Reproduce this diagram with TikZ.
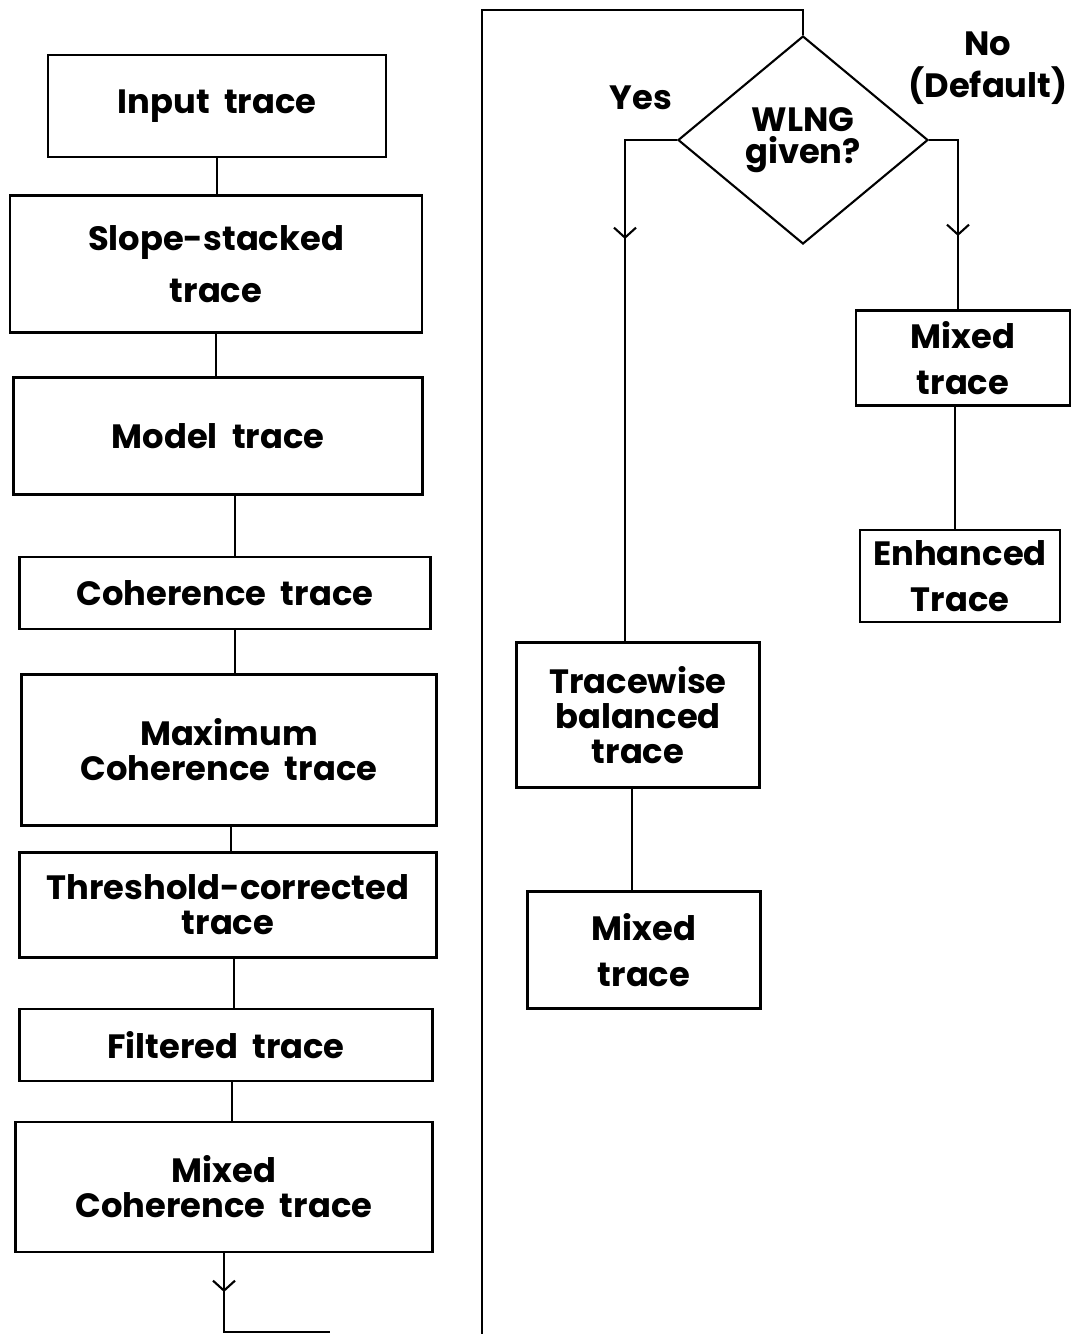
\documentclass[tikz,border=0pt]{standalone}
\usepackage{fontspec}
\setmainfont{Poppins}
\usetikzlibrary{arrows.meta,shapes.geometric,decorations.markings}
\tikzset{
  tracebox/.style={rectangle, draw=black, line width=0.6pt, inner sep=0pt, align=center,
    font=\fontsize{9.6}{10}\selectfont\bfseries},
  decision/.style={diamond, draw=black, line width=0.6pt, inner sep=0pt, align=center,
    minimum width=25mm, minimum height=20.8mm, font=\fontsize{9.6}{9}\selectfont\bfseries},
  flow/.style={line width=0.6pt, draw=black},
  midarrow/.style={postaction={decorate, decoration={markings,
    mark=at position #1 with {\arrow{Straight Barb[length=1mm, width=2.2mm, line width=0.6pt]}}}}},
  branch/.style={font=\fontsize{9.6}{10}\selectfont\bfseries, align=center}
}
\begin{document}
\begin{tikzpicture}[x=0.1mm, y=-0.1mm]
  \useasboundingbox (0,0) rectangle (1075,1334);

  % left column
  \node[tracebox, minimum width=33.8mm, minimum height=10.2mm] (input) at (217,106) {Input\ \ trace};
  \node[tracebox, minimum width=41.2mm, minimum height=13.7mm] (slope) at (216,264) {Slope-stacked\\[5pt]trace};
  \node[tracebox, minimum width=40.9mm, minimum height=11.7mm] (model) at (218,436) {Model\ \ trace};
  \node[tracebox, minimum width=41.1mm, minimum height=7.2mm] (coher) at (225,593) {Coherence\ \ trace};
  \node[tracebox, minimum width=41.5mm, minimum height=15.1mm] (maxcoh) at (229,750) {Maximum\\Coherence\ \ trace};
  \node[tracebox, minimum width=41.7mm, minimum height=10.5mm] (thresh) at (228,905) {Threshold-corrected\\trace};
  \node[tracebox, minimum width=41.3mm, minimum height=7.2mm] (filt) at (226,1045) {Filtered\ \ trace};
  \node[tracebox, minimum width=41.7mm, minimum height=13mm] (mixcoh) at (224,1187) {Mixed\\Coherence\ \ trace};
  \coordinate (loopend) at (330,1332);

  \draw[flow] (input) -- (input |- slope.north);
  \draw[flow] (slope) -- (slope |- model.north);
  \draw[flow] (model.south -| 235,0) -- (coher.north -| 235,0);
  \draw[flow] (coher.south -| 235,0) -- (maxcoh.north -| 235,0);
  \draw[flow] (maxcoh.south -| 231,0) -- (thresh.north -| 231,0);
  \draw[flow] (thresh.south -| 234,0) -- (filt.north -| 234,0);
  \draw[flow] (filt.south -| 232,0) -- (mixcoh.north -| 232,0);
  \draw[flow, midarrow=3.9mm] (mixcoh.south) -- (mixcoh.south |- loopend) -- (loopend);

  % right column
  \node[decision] (wlng) at (803,140) {WLNG\\given?};
  \node[branch] (yes) at (641,98) {Yes};
  \node[branch] (no) at (988,68) {No\\[2pt](Default)};
  \node[tracebox, minimum width=24.3mm, minimum height=14.5mm] (tbal) at (638,715) {Tracewise\\balanced\\trace};
  \node[tracebox, minimum width=23.3mm, minimum height=11.7mm] (mixl) at (644,950) {Mixed\\[3pt]trace};
  \node[tracebox, minimum width=21.4mm, minimum height=9.5mm] (mixr) at (963,358) {Mixed\\[3pt]trace};
  \node[tracebox, minimum width=20mm, minimum height=9.2mm] (enh) at (960,576) {Enhanced\\[3pt]Trace};

  \draw[flow] (482,1334) -- (482,10) -- (wlng.north |- 0,10) -- (wlng.north);
  \draw[flow, midarrow=15.1mm] (wlng.west) -- (625,140) -- (tbal.north -| 625,0);
  \draw[flow, midarrow=12.5mm] (wlng.east) -- (958,140) -- (mixr.north -| 958,0);
  \draw[flow] (tbal.south -| 632,0) -- (mixl.north -| 632,0);
  \draw[flow] (mixr.south -| 955,0) -- (enh.north -| 955,0);
\end{tikzpicture}
\end{document}
